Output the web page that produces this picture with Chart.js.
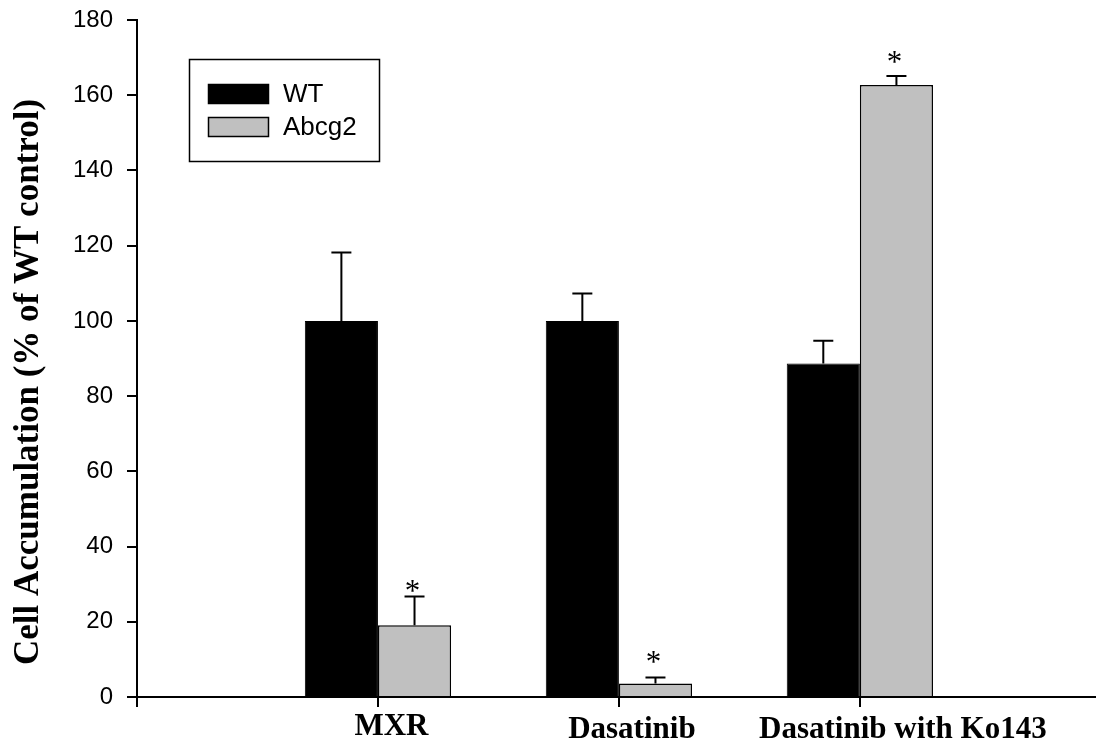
<!DOCTYPE html>
<html>
<head>
<meta charset="utf-8">
<script src="https://cdn.jsdelivr.net/npm/chart.js@4.4.1/dist/chart.umd.min.js"></script>
<style>
  html, body { margin: 0; padding: 0; background: #fff; }
  #wrap { width: 1096px; height: 744px; position: relative; }
</style>
</head>
<body>
<div id="wrap"><canvas id="myChart"></canvas></div>
<script>
// data
const categories = ['MXR', 'Dasatinib', 'Dasatinib with Ko143'];
const wtValues = [100, 100, 88.7];
const wtErrors = [18.2, 7.3, 6.0];
const abcg2Values = [19.1, 3.6, 162.7];
const abcg2Errors = [7.6, 1.6, 2.4];
const abcg2Significant = [true, true, true];
const yTicks = [0, 20, 40, 60, 80, 100, 120, 140, 160, 180];

const errors = [wtErrors, abcg2Errors];

// error bars + asterisks
const errorBarPlugin = {
    id: 'errorBars',
    afterDatasetsDraw(chart) {
        const ctx = chart.ctx;
        const yScale = chart.scales.y;
        const starGap = [5, 14, 13];
        ctx.save();
        ctx.strokeStyle = '#000';
        ctx.lineWidth = 2;
        chart.data.datasets.forEach((ds, i) => {
            const meta = chart.getDatasetMeta(i);
            meta.data.forEach((bar, j) => {
                const v = ds.data[j].y;
                const top = yScale.getPixelForValue(v + errors[i][j]);
                ctx.beginPath();
                ctx.moveTo(bar.x, bar.y);
                ctx.lineTo(bar.x, top);
                ctx.moveTo(bar.x - 10, top);
                ctx.lineTo(bar.x + 10, top);
                ctx.stroke();
                if (i === 1 && abcg2Significant[j]) {
                    ctx.fillStyle = '#000';
                    ctx.font = '31px "Liberation Serif", "Times New Roman", serif';
                    ctx.textAlign = 'center';
                    ctx.textBaseline = 'alphabetic';
                    ctx.fillText('*', bar.x - 2, top - starGap[j] + 9);
                }
            });
        });
        ctx.restore();
    }
};

// legend box, axis title and category labels
const decorPlugin = {
    id: 'decor',
    afterDraw(chart) {
        const ctx = chart.ctx;
        const xScale = chart.scales.x;
        ctx.save();

        // legend
        ctx.strokeStyle = '#000';
        ctx.lineWidth = 1.5;
        ctx.strokeRect(189.5, 59.5, 190, 102);
        ctx.font = '26px "Liberation Sans", Arial, sans-serif';
        ctx.textAlign = 'left';
        ctx.textBaseline = 'middle';
        chart.data.datasets.forEach((ds, i) => {
            const y = 84 + i * 33;
            ctx.fillStyle = ds.backgroundColor;
            ctx.fillRect(208, y, 61, 20);
            ctx.lineWidth = 1.5;
            ctx.strokeRect(208.5, y + 0.5, 60, 19);
            ctx.fillStyle = '#000';
            ctx.fillText(ds.label, 283, y + 11);
        });

        // y title
        ctx.save();
        ctx.translate(38, 382);
        ctx.rotate(-Math.PI / 2);
        ctx.font = 'bold 35px "Liberation Serif", "Times New Roman", serif';
        ctx.textAlign = 'center';
        ctx.textBaseline = 'alphabetic';
        ctx.fillStyle = '#000';
        ctx.fillText('Cell Accumulation (% of WT control)', 0, 0);
        ctx.restore();

        // category labels
        const dx = [13.5, 13, 43];
        const base = [735, 738, 738];
        ctx.font = 'bold 31px "Liberation Serif", "Times New Roman", serif';
        ctx.textAlign = 'center';
        ctx.textBaseline = 'alphabetic';
        ctx.fillStyle = '#000';
        categories.forEach((c, i) => {
            ctx.fillText(c, xScale.getPixelForValue(i + 1) + dx[i], base[i]);
        });
        ctx.restore();
    }
};

const ctx = document.getElementById('myChart').getContext('2d');
const myChart = new Chart(ctx, {
    type: 'bar',
    data: {
        datasets: [{
            label: 'WT',
            data: wtValues.map((v, i) => ({ x: i + 1, y: v })),
            backgroundColor: '#000000',
            borderColor: '#000000',
            borderWidth: 1
        }, {
            label: 'Abcg2',
            data: abcg2Values.map((v, i) => ({ x: i + 1, y: v })),
            backgroundColor: '#c0c0c0',
            borderColor: '#000000',
            borderWidth: 1.5
        }]
    },
    options: {
        responsive: true,
        maintainAspectRatio: false,
        animation: false,
        categoryPercentage: 0.607,
        barPercentage: 1,
        layout: { padding: { top: 20, right: 0, left: 0, bottom: 0 } },
        plugins: {
            legend: { display: false },
            tooltip: { enabled: false }
        },
        scales: {
            x: {
                type: 'linear',
                min: 0,
                max: 3.98,
                offset: false,
                afterBuildTicks: (scale) => {
                    scale.ticks = [0, 1, 2, 3].map(v => ({ value: v }));
                },
                afterFit: (scale) => {
                    scale.height = 47;
                    scale.paddingLeft = 0;
                    scale.paddingRight = 0;
                },
                ticks: { callback: () => '' },
                grid: {
                    offset: false,
                    drawOnChartArea: false,
                    drawTicks: true,
                    tickLength: 10,
                    color: '#000',
                    lineWidth: 2
                },
                border: { display: true, color: '#000', width: 2 }
            },
            y: {
                min: 0,
                max: 180,
                afterBuildTicks: (scale) => {
                    scale.ticks = yTicks.map(v => ({ value: v }));
                },
                afterFit: (scale) => {
                    scale.width = 137;
                    scale.paddingTop = 0;
                    scale.paddingBottom = 0;
                },
                ticks: {
                    color: '#000',
                    padding: 14,
                    font: { family: '"Liberation Sans", Arial, sans-serif', size: 24 }
                },
                grid: {
                    drawOnChartArea: false,
                    drawTicks: true,
                    tickLength: 10,
                    color: '#000',
                    lineWidth: 2
                },
                border: { display: true, color: '#000', width: 2 }
            }
        }
    },
    plugins: [errorBarPlugin, decorPlugin]
});
</script>
</body>
</html>
